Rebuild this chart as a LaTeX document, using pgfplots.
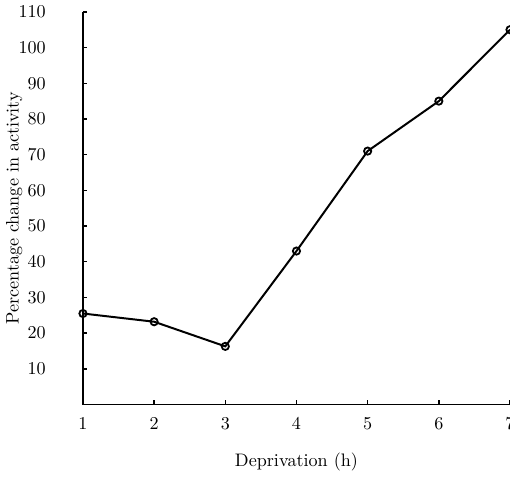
\documentclass[border=0pt]{standalone}
\usepackage{pgfplots}
\pgfplotsset{compat=1.18}

\begin{document}
\begin{tikzpicture}[trim axis right]
\begin{axis}[
  scale only axis,
  width=236pt,
  height=217pt,
  xmin=1, xmax=7,
  ymin=0, ymax=110,
  axis lines*=left,
  axis line style={line width=1pt},
  tick align=inside,
  major tick length=2.5pt,
  tick style={line width=0.8pt, black},
  xtick={1,...,7},
  ytick={10,20,...,110},
  yticklabel style={xshift=-17pt},
  xticklabel style={yshift=-4pt},
  xlabel={Deprivation (h)},
  ylabel={Percentage change in activity},
  xlabel style={yshift=-6pt},
  ylabel style={at={(axis description cs:-0.127,0.5)}, anchor=south},
  clip=false,
]
\addplot[
  black,
  line width=1.1pt,
  mark=o,
  mark size=2pt,
  mark options={line width=1pt, fill=white},
] coordinates {
  (1,25.5)
  (2,23.2)
  (3,16.3)
  (4,43)
  (5,71)
  (6,85)
  (7,105)
};
\end{axis}
\end{tikzpicture}
\end{document}
